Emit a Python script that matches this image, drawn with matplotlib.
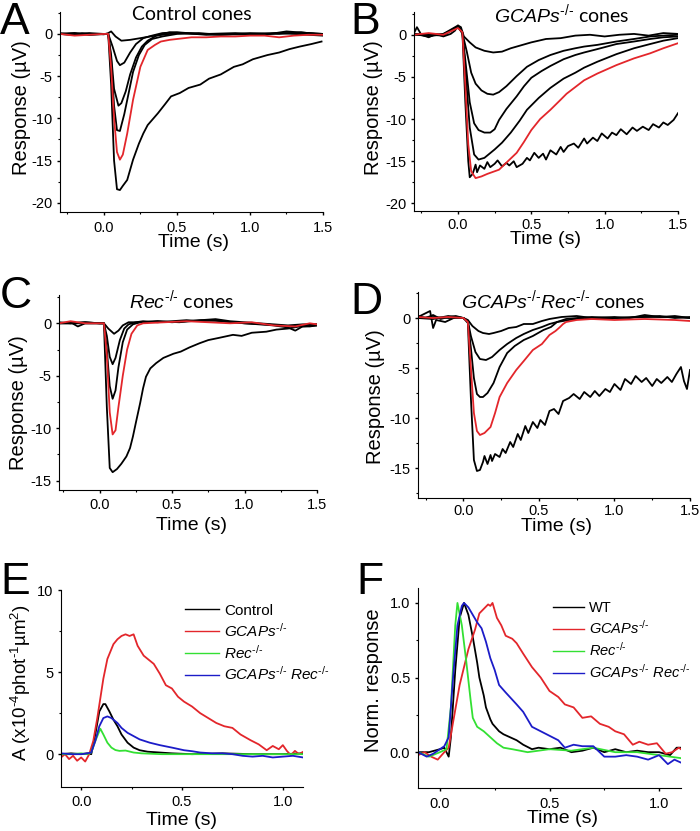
import matplotlib
matplotlib.use('Agg')
import matplotlib.pyplot as plt
from matplotlib.ticker import MultipleLocator, FormatStrFormatter

plt.rcParams['font.family'] = ['Liberation Sans', 'DejaVu Sans']
plt.rcParams['axes.unicode_minus'] = False
plt.rcParams['mathtext.fontset'] = 'custom'
plt.rcParams['mathtext.rm'] = 'Liberation Sans'
plt.rcParams['mathtext.it'] = 'Liberation Sans:italic'
plt.rcParams['mathtext.default'] = 'regular'

RED = '#e3262b'
GREEN = '#33e033'
BLUE = '#1c1cc8'

# ---- Panel A: control cones (t in s, response in uV)
A_t1 = [-0.3, -0.22, -0.15, -0.08, 0.0, 0.03, 0.05, 0.08, 0.12, 0.18, 0.25, 0.35, 0.5, 0.7, 0.9, 1.1, 1.25, 1.4, 1.5]
A_v1 = [0.0, -0.1, 0.1, 0.0, -0.05, 0.1, 0.3, -0.3, -0.8, -0.7, -0.5, -0.2, 0.1, 0.0, 0.1, -0.1, 0.3, 0.1, 0.0]
A_t2 = [-0.3, -0.2, -0.1, 0.0, 0.03, 0.06, 0.09, 0.11, 0.14, 0.18, 0.22, 0.27, 0.33, 0.4, 0.5, 0.65, 0.8, 1.0, 1.2, 1.35, 1.5]
A_v2 = [0.1, -0.1, 0.1, 0.0, 0.0, -1.5, -3.2, -3.7, -3.4, -2.2, -1.2, -0.5, -0.2, 0.1, 0.2, 0.0, -0.1, 0.1, 0.0, 0.2, -0.1]
A_t3 = [-0.3, -0.2, -0.1, 0.0, 0.03, 0.05, 0.07, 0.1, 0.12, 0.15, 0.18, 0.22, 0.26, 0.3, 0.36, 0.45, 0.55, 0.7, 0.85, 1.0, 1.2, 1.4, 1.5]
A_v3 = [0.0, 0.1, -0.1, 0.0, 0.0, -2.5, -6.5, -8.5, -8.2, -6.8, -4.8, -2.8, -1.5, -0.8, -0.2, 0.2, 0.1, -0.1, 0.0, -0.1, 0.1, 0.1, 0.0]
A_t4 = [-0.3, -0.2, -0.1, 0.0, 0.03, 0.05, 0.07, 0.09, 0.11, 0.14, 0.17, 0.2, 0.24, 0.28, 0.33, 0.4, 0.5, 0.65, 0.8, 1.0, 1.2, 1.4, 1.5]
A_v4 = [0.0, -0.1, 0.0, 0.0, 0.0, -3.0, -8.5, -11.4, -11.5, -9.5, -7.0, -4.5, -2.5, -1.3, -0.6, -0.3, 0.0, 0.1, -0.1, 0.0, 0.1, -0.1, -0.2]
A_tr = [-0.3, -0.2, -0.1, 0.0, 0.03, 0.05, 0.07, 0.09, 0.11, 0.13, 0.16, 0.2, 0.25, 0.3, 0.35, 0.39, 0.45, 0.5, 0.6, 0.7, 0.8, 0.9, 1.0, 1.1, 1.2, 1.3, 1.4, 1.5]
A_vr = [0.0, -0.2, -0.1, 0.0, 0.0, -4.0, -10.0, -14.0, -14.9, -14.3, -11.8, -7.8, -3.9, -1.9, -1.3, -0.9, -0.7, -0.6, -0.4, -0.4, -0.3, -0.3, -0.2, -0.2, -0.4, -0.2, -0.1, -0.1]
A_t5 = [-0.3, -0.2, -0.1, 0.0, 0.03, 0.05, 0.07, 0.09, 0.11, 0.13, 0.16, 0.2, 0.24, 0.27, 0.3, 0.34, 0.37, 0.42, 0.46, 0.52, 0.58, 0.66, 0.72, 0.8, 0.89, 0.95, 1.02, 1.12, 1.2, 1.27, 1.34, 1.42, 1.49]
A_v5 = [0.0, 0.1, -0.1, 0.0, 0.0, -6.0, -15.0, -18.4, -18.5, -18.0, -17.3, -14.9, -13.0, -11.8, -10.8, -10.0, -9.4, -8.3, -7.4, -7.0, -6.4, -6.0, -5.3, -4.8, -3.9, -3.6, -3.0, -2.5, -2.2, -1.8, -1.5, -1.2, -0.9]

# ---- Panel B: GCAPs-/- cones
B_t1 = [-0.3, -0.28, -0.25, -0.2, -0.15, -0.1, -0.05, -0.02, 0.0, 0.02, 0.04, 0.08, 0.12, 0.18, 0.24, 0.3, 0.36, 0.42, 0.5, 0.6, 0.7, 0.8, 0.9, 1.0, 1.1, 1.2, 1.3, 1.4, 1.5]
B_v1 = [0.2, 0.9, 0.0, -0.3, 0.1, -0.2, 0.1, 0.5, 1.1, 0.9, -0.2, -0.9, -1.5, -1.9, -2.1, -2.0, -1.6, -1.3, -0.9, -0.5, -0.4, -0.1, 0.0, -0.2, 0.0, 0.1, -0.1, 0.2, 0.1]
B_t2 = [-0.3, -0.2, -0.1, 0.0, 0.03, 0.06, 0.09, 0.12, 0.16, 0.2, 0.24, 0.28, 0.33, 0.4, 0.47, 0.55, 0.63, 0.72, 0.8, 0.86, 0.95, 1.08, 1.2, 1.31, 1.4, 1.5]
B_v2 = [0.0, -0.1, 0.1, 0.9, 0.2, -2.0, -4.5, -5.8, -6.6, -7.0, -7.1, -6.8, -6.1, -4.9, -3.8, -3.0, -2.4, -1.9, -1.6, -1.4, -1.2, -0.8, -0.5, -0.2, -0.1, 0.0]
B_t3 = [-0.3, -0.2, -0.1, 0.0, 0.03, 0.05, 0.08, 0.11, 0.14, 0.18, 0.22, 0.25, 0.28, 0.33, 0.4, 0.45, 0.5, 0.57, 0.63, 0.72, 0.8, 0.86, 0.95, 1.08, 1.2, 1.31, 1.4, 1.5]
B_v3 = [0.1, 0.0, -0.1, 1.0, 0.2, -3.0, -8.0, -10.5, -11.3, -11.6, -11.6, -11.2, -10.1, -8.8, -7.3, -6.1, -5.1, -4.3, -3.7, -2.9, -2.4, -2.1, -1.7, -1.1, -0.8, -0.5, -0.3, -0.2]
B_t4 = [-0.3, -0.2, -0.1, 0.0, 0.03, 0.05, 0.08, 0.11, 0.14, 0.18, 0.25, 0.3, 0.36, 0.42, 0.47, 0.55, 0.63, 0.72, 0.8, 0.86, 0.95, 1.08, 1.2, 1.31, 1.4, 1.5]
B_v4 = [0.0, 0.1, 0.0, 1.0, 0.2, -4.0, -11.0, -14.2, -14.8, -14.6, -13.6, -12.8, -11.6, -10.2, -8.9, -7.5, -6.3, -5.2, -4.5, -3.9, -3.2, -2.3, -1.6, -1.1, -0.7, -0.4]
B_tr = [-0.3, -0.2, -0.1, 0.0, 0.03, 0.05, 0.07, 0.09, 0.12, 0.16, 0.2, 0.28, 0.34, 0.4, 0.45, 0.5, 0.56, 0.63, 0.7, 0.74, 0.8, 0.86, 0.95, 1.08, 1.2, 1.31, 1.4, 1.5]
B_vr = [0.0, 0.2, 0.0, 0.8, 0.3, -6.0, -13.0, -16.2, -17.0, -16.8, -16.5, -16.0, -15.0, -14.0, -12.7, -11.3, -10.0, -8.9, -7.7, -7.0, -6.2, -5.4, -4.6, -3.6, -2.8, -2.2, -1.6, -1.0]
B_t5 = [-0.3, -0.2, -0.1, 0.0, 0.03, 0.05, 0.07, 0.08, 0.1, 0.12, 0.13, 0.15, 0.18, 0.2, 0.22, 0.25, 0.27, 0.3, 0.33, 0.35, 0.38, 0.4, 0.44, 0.47, 0.49, 0.52, 0.55, 0.58, 0.6, 0.63, 0.67, 0.7, 0.72, 0.75, 0.79, 0.82, 0.86, 0.88, 0.92, 0.95, 0.98, 1.02, 1.05, 1.08, 1.11, 1.15, 1.19, 1.22, 1.26, 1.3, 1.33, 1.37, 1.4, 1.43, 1.47, 1.5]
B_v5 = [0.1, -0.2, 0.1, 1.1, 0.3, -8.0, -15.0, -16.9, -16.5, -15.4, -16.3, -15.5, -15.9, -15.1, -15.7, -15.3, -14.9, -15.6, -15.2, -15.5, -15.0, -15.7, -15.3, -14.6, -14.9, -14.0, -14.6, -14.1, -14.8, -13.7, -14.2, -13.3, -13.9, -13.2, -12.9, -13.4, -12.3, -12.9, -12.2, -12.6, -11.7, -12.3, -11.6, -11.9, -11.2, -11.8, -11.0, -11.4, -10.9, -11.3, -10.6, -11.0, -10.4, -10.7, -10.1, -9.3]

# ---- Panel C: Rec-/- cones
C_t1 = [-0.28, -0.2, -0.15, -0.1, 0.0, 0.03, 0.06, 0.1, 0.13, 0.16, 0.2, 0.3, 0.4, 0.5, 0.6, 0.7, 0.8, 0.9, 1.0, 1.1, 1.2, 1.3, 1.4, 1.5]
C_v1 = [0.0, 0.1, -0.3, 0.0, 0.0, 0.0, -0.5, -1.0, -0.7, -0.2, 0.1, 0.1, 0.2, 0.1, 0.2, 0.3, 0.4, 0.2, 0.1, 0.0, -0.1, -0.2, -0.1, -0.1]
C_t2 = [-0.28, -0.2, -0.1, 0.0, 0.03, 0.05, 0.07, 0.09, 0.11, 0.14, 0.17, 0.2, 0.25, 0.3, 0.4, 0.5, 0.6, 0.7, 0.8, 0.9, 1.0, 1.1, 1.2, 1.3, 1.35, 1.4, 1.5]
C_v2 = [0.0, 0.0, 0.1, 0.0, 0.0, -1.2, -3.2, -3.9, -3.3, -1.6, -0.5, -0.1, 0.1, 0.2, 0.1, 0.2, 0.3, 0.2, 0.3, 0.1, 0.0, -0.1, -0.2, -0.4, -0.7, -0.3, -0.2]
C_t3 = [-0.28, -0.2, -0.1, 0.0, 0.03, 0.05, 0.07, 0.09, 0.11, 0.13, 0.16, 0.19, 0.23, 0.28, 0.4, 0.55, 0.7, 0.85, 1.0, 1.15, 1.3, 1.4, 1.5]
C_v3 = [0.1, 0.0, 0.0, 0.0, 0.0, -2.5, -6.0, -7.2, -6.4, -4.2, -1.8, -0.6, -0.1, 0.1, 0.2, 0.1, 0.3, 0.2, 0.0, -0.1, -0.3, -0.2, -0.1]
C_tr = [-0.28, -0.2, -0.1, 0.0, 0.03, 0.05, 0.07, 0.09, 0.11, 0.13, 0.16, 0.19, 0.22, 0.26, 0.3, 0.45, 0.6, 0.75, 0.9, 1.05, 1.2, 1.35, 1.45, 1.5]
C_vr = [0.0, 0.2, 0.0, 0.0, 0.0, -3.0, -8.5, -10.6, -10.2, -8.0, -5.0, -2.5, -1.0, -0.2, 0.0, 0.1, 0.2, 0.1, 0.0, 0.1, -0.2, -0.3, 0.0, -0.1]
C_t4 = [-0.28, -0.2, -0.1, 0.0, 0.03, 0.05, 0.07, 0.09, 0.12, 0.15, 0.185, 0.21, 0.23, 0.25, 0.28, 0.3, 0.32, 0.35, 0.39, 0.44, 0.51, 0.56, 0.62, 0.69, 0.75, 0.82, 0.92, 0.98, 1.05, 1.15, 1.22, 1.3, 1.38, 1.45, 1.5]
C_v4 = [0.0, 0.0, 0.1, 0.0, 0.0, -8.0, -13.8, -14.2, -13.9, -13.4, -12.7, -11.9, -10.8, -9.5, -7.6, -6.2, -5.1, -4.3, -3.8, -3.3, -2.9, -2.7, -2.3, -1.9, -1.6, -1.4, -1.1, -1.2, -0.9, -0.8, -0.6, -0.5, -0.3, -0.3, -0.2]

# ---- Panel D: GCAPs-/-Rec-/- cones
D_t1 = [-0.3, -0.25, -0.2, -0.15, -0.1, -0.05, 0.0, 0.03, 0.06, 0.1, 0.13, 0.17, 0.2, 0.25, 0.3, 0.35, 0.4, 0.46, 0.52, 0.57, 0.65, 0.75, 0.85, 1.0, 1.1, 1.2, 1.3, 1.4, 1.5]
D_v1 = [0.2, 0.0, 0.3, -0.1, 0.1, 0.2, 0.0, -0.2, -0.8, -1.3, -1.5, -1.6, -1.5, -1.3, -1.0, -0.9, -0.6, -0.6, -0.3, -0.1, 0.1, 0.2, 0.0, 0.1, 0.0, 0.3, 0.1, 0.2, 0.0]
D_t2 = [-0.3, -0.22, -0.2, -0.18, -0.12, -0.05, 0.0, 0.03, 0.05, 0.08, 0.11, 0.15, 0.19, 0.24, 0.29, 0.35, 0.4, 0.46, 0.52, 0.57, 0.62, 0.68, 0.75, 0.85, 1.0, 1.15, 1.3, 1.4, 1.5]
D_v2 = [0.1, 0.7, -1.0, -0.2, -0.4, 0.1, 0.0, -0.3, -1.8, -3.4, -4.1, -4.2, -3.9, -3.2, -2.6, -2.0, -1.6, -1.2, -0.9, -0.6, -0.4, -0.1, 0.0, 0.1, 0.0, 0.1, 0.2, 0.0, 0.1]
D_t3 = [-0.3, -0.2, -0.1, 0.0, 0.03, 0.05, 0.07, 0.09, 0.11, 0.13, 0.16, 0.2, 0.24, 0.29, 0.34, 0.4, 0.46, 0.53, 0.58, 0.62, 0.7, 0.8, 0.9, 1.0, 1.2, 1.4, 1.5]
D_v3 = [0.0, 0.1, 0.0, 0.0, -0.3, -3.0, -6.0, -7.6, -7.9, -7.9, -7.5, -6.5, -4.9, -3.5, -2.8, -2.2, -1.8, -1.2, -0.9, -0.4, -0.2, 0.0, -0.1, 0.0, 0.1, 0.1, 0.0]
D_tr = [-0.3, -0.2, -0.1, 0.0, 0.03, 0.05, 0.07, 0.09, 0.11, 0.14, 0.18, 0.21, 0.24, 0.29, 0.35, 0.4, 0.46, 0.52, 0.57, 0.61, 0.64, 0.66, 0.68, 0.75, 0.85, 1.0, 1.2, 1.4, 1.5]
D_vr = [0.1, 0.0, 0.1, 0.0, -0.4, -5.0, -9.5, -11.3, -11.7, -11.5, -10.9, -9.5, -7.9, -6.5, -5.2, -4.3, -3.2, -2.6, -1.7, -1.3, -0.9, -0.6, -0.4, -0.2, -0.1, -0.2, -0.1, -0.2, -0.3]
D_t4 = [-0.3, -0.2, -0.1, 0.0, 0.03, 0.05, 0.07, 0.09, 0.11, 0.13, 0.14, 0.16, 0.18, 0.19, 0.21, 0.24, 0.26, 0.28, 0.31, 0.33, 0.36, 0.38, 0.41, 0.43, 0.46, 0.49, 0.51, 0.54, 0.57, 0.6, 0.63, 0.66, 0.7, 0.73, 0.77, 0.8, 0.84, 0.87, 0.9, 0.94, 0.97, 1.0, 1.04, 1.07, 1.11, 1.14, 1.18, 1.21, 1.25, 1.28, 1.31, 1.35, 1.38, 1.41, 1.44, 1.46, 1.48, 1.5]
D_v4 = [0.0, -0.1, 0.2, 0.0, -0.5, -8.0, -14.2, -15.3, -15.2, -14.4, -13.8, -14.6, -13.7, -14.3, -13.6, -13.9, -13.1, -13.5, -12.4, -12.9, -11.6, -12.2, -10.8, -11.5, -10.4, -11.0, -10.2, -10.7, -9.3, -9.1, -9.6, -8.3, -8.0, -7.6, -8.1, -7.4, -7.9, -7.3, -7.8, -7.1, -7.4, -6.6, -7.2, -6.1, -6.6, -5.8, -6.4, -6.0, -6.8, -6.1, -6.5, -5.9, -6.4, -5.6, -4.9, -6.3, -7.1, -5.2]

# ---- Panel E: amplification (x1e-4 phot^-1 um^2)
E_t_ctl = [-0.1, -0.05, 0.0, 0.03, 0.05, 0.07, 0.09, 0.11, 0.12, 0.14, 0.16, 0.18, 0.2, 0.23, 0.26, 0.29, 0.33, 0.39, 0.45, 0.55, 0.7, 0.85, 1.0, 1.1]
E_v_ctl = [0.0, 0.05, 0.0, 0.05, 0.0, 1.2, 2.6, 3.05, 3.05, 2.6, 2.1, 1.7, 1.2, 0.7, 0.4, 0.24, 0.15, 0.1, 0.05, 0.0, 0.05, 0.0, 0.0, 0.05]
E_t_gcap = [-0.1, -0.08, -0.06, -0.04, -0.02, 0.0, 0.02, 0.04, 0.06, 0.08, 0.095, 0.11, 0.13, 0.16, 0.18, 0.2, 0.22, 0.24, 0.26, 0.28, 0.31, 0.33, 0.36, 0.39, 0.42, 0.45, 0.48, 0.51, 0.55, 0.59, 0.63, 0.67, 0.71, 0.75, 0.79, 0.84, 0.88, 0.92, 0.95, 0.98, 1.0, 1.02, 1.04, 1.06, 1.08, 1.1]
E_v_gcap = [-0.2, 0.0, -0.3, -0.1, -0.4, -0.2, -0.45, 0.0, 0.8, 2.2, 3.4, 4.6, 5.8, 6.7, 7.0, 7.2, 7.3, 7.2, 7.3, 6.6, 6.0, 5.8, 5.5, 4.9, 4.2, 4.0, 3.5, 3.2, 2.9, 2.5, 2.2, 1.9, 1.7, 1.6, 1.2, 0.85, 0.6, 0.24, 0.5, 0.3, 0.55, 0.2, -0.06, 0.2, 0.0, 0.14]
E_t_rec = [-0.1, -0.05, 0.0, 0.03, 0.05, 0.07, 0.095, 0.11, 0.13, 0.15, 0.17, 0.19, 0.22, 0.26, 0.3, 0.4, 0.5, 0.6, 0.8, 1.0, 1.1]
E_v_rec = [0.0, 0.0, 0.05, 0.0, 0.1, 0.8, 1.55, 1.2, 0.7, 0.4, 0.25, 0.2, 0.22, 0.1, 0.05, 0.0, 0.0, 0.0, 0.0, 0.0, 0.0]
E_t_dko = [-0.1, -0.05, 0.0, 0.03, 0.05, 0.07, 0.09, 0.11, 0.13, 0.15, 0.18, 0.2, 0.23, 0.26, 0.29, 0.34, 0.39, 0.45, 0.51, 0.55, 0.59, 0.65, 0.7, 0.75, 0.8, 0.85, 0.9, 0.95, 1.0, 1.05, 1.1]
E_v_dko = [0.05, 0.0, 0.0, 0.05, 0.1, 0.8, 1.7, 2.2, 2.3, 2.2, 1.9, 1.6, 1.3, 1.1, 0.9, 0.7, 0.55, 0.4, 0.24, 0.18, 0.1, 0.05, 0.05, 0.0, -0.1, -0.15, -0.1, -0.2, -0.15, -0.1, -0.2]

# ---- Panel F: normalized responses
F_t_wt = [-0.1, -0.05, 0.0, 0.02, 0.04, 0.05, 0.07, 0.09, 0.11, 0.13, 0.15, 0.17, 0.18, 0.2, 0.21, 0.23, 0.24, 0.27, 0.29, 0.32, 0.35, 0.38, 0.42, 0.45, 0.5, 0.55, 0.6, 0.65, 0.7, 0.75, 0.8, 0.85, 0.9, 0.95, 1.0, 1.05, 1.08, 1.1]
F_v_wt = [0.0, 0.0, 0.02, 0.03, -0.03, 0.1, 0.55, 0.9, 1.0, 0.92, 0.77, 0.6, 0.5, 0.38, 0.3, 0.22, 0.19, 0.14, 0.12, 0.1, 0.08, 0.05, 0.02, 0.03, 0.02, 0.03, 0.0, 0.01, 0.03, 0.0, 0.02, 0.0, 0.01, 0.0, 0.0, -0.02, 0.03, 0.03]
F_t_gcap = [-0.1, -0.07, -0.04, -0.01, 0.02, 0.04, 0.06, 0.09, 0.13, 0.16, 0.18, 0.2, 0.22, 0.23, 0.24, 0.26, 0.28, 0.3, 0.33, 0.35, 0.38, 0.42, 0.46, 0.5, 0.54, 0.57, 0.61, 0.65, 0.69, 0.73, 0.77, 0.8, 0.84, 0.88, 0.91, 0.95, 0.99, 1.03, 1.06, 1.09, 1.1]
F_v_gcap = [-0.02, 0.0, -0.03, -0.05, 0.0, 0.03, 0.2, 0.45, 0.69, 0.82, 0.93, 0.96, 0.99, 0.98, 1.0, 0.9, 0.85, 0.78, 0.76, 0.73, 0.66, 0.57, 0.5, 0.41, 0.37, 0.32, 0.3, 0.23, 0.24, 0.19, 0.17, 0.14, 0.12, 0.05, 0.07, 0.05, 0.06, -0.01, 0.0, 0.03, 0.02]
F_t_rec = [-0.1, -0.05, 0.0, 0.03, 0.05, 0.07, 0.08, 0.1, 0.12, 0.14, 0.15, 0.17, 0.18, 0.2, 0.23, 0.26, 0.29, 0.33, 0.4, 0.5, 0.6, 0.7, 0.8, 0.9, 1.0, 1.05, 1.1]
F_v_rec = [0.0, -0.03, 0.0, 0.02, 0.3, 0.85, 1.0, 0.85, 0.61, 0.35, 0.23, 0.17, 0.16, 0.14, 0.1, 0.06, 0.03, 0.02, 0.0, 0.02, 0.01, 0.03, 0.0, 0.0, -0.02, -0.03, -0.04]
F_t_dko = [-0.1, -0.06, -0.03, 0.0, 0.02, 0.04, 0.06, 0.08, 0.1, 0.11, 0.13, 0.15, 0.17, 0.19, 0.21, 0.23, 0.25, 0.27, 0.3, 0.35, 0.38, 0.42, 0.46, 0.5, 0.54, 0.57, 0.61, 0.65, 0.7, 0.75, 0.8, 0.85, 0.9, 0.95, 1.0, 1.04, 1.07, 1.1]
F_v_dko = [0.0, -0.03, -0.01, 0.02, 0.04, 0.1, 0.5, 0.85, 0.98, 1.0, 0.97, 0.92, 0.87, 0.83, 0.74, 0.63, 0.55, 0.45, 0.4, 0.32, 0.27, 0.17, 0.14, 0.11, 0.08, 0.03, 0.05, 0.04, 0.04, -0.03, -0.03, -0.02, -0.03, -0.05, -0.02, -0.08, -0.05, -0.07]

KO = r'\text{-/-}'
GCAP_LBL = r'$\mathit{GCAPs}^{' + KO + '}$'
REC_LBL = r'$\mathit{Rec}^{' + KO + '}$'
DKO_LBL = r'$\mathit{GCAPs}^{' + KO + r'}\ \mathit{Rec}^{' + KO + '}$'

W, H = 700, 831
fig = plt.figure(figsize=(7, 8.31), dpi=100)


def make_ax(left, right, top, bottom):
    return fig.add_axes([left / W, 1 - bottom / H, (right - left) / W, (bottom - top) / H])


def style(ax, xlim, ylim, ymaj, yfmt, xpad, xmaj=0.5):
    ax.set_xlim(*xlim)
    ax.set_ylim(*ylim)
    for s in ['top', 'right']:
        ax.spines[s].set_visible(False)
    ax.xaxis.set_major_locator(MultipleLocator(xmaj))
    ax.xaxis.set_minor_locator(MultipleLocator(xmaj / 2))
    ax.yaxis.set_major_locator(MultipleLocator(ymaj))
    ax.yaxis.set_minor_locator(MultipleLocator(ymaj / 2))
    ax.xaxis.set_major_formatter(FormatStrFormatter('%.1f'))
    ax.yaxis.set_major_formatter(FormatStrFormatter(yfmt))
    ax.tick_params(which='major', direction='out', length=2.5, width=1, labelsize=10.5)
    ax.tick_params(which='minor', direction='out', length=1.5, width=0.8)
    ax.tick_params(axis='x', pad=xpad)
    ax.tick_params(axis='y', pad=3)
    ax.set_xlabel('Time (s)', fontsize=14)


lw = 1.3

# A
axA = make_ax(60, 323, 12, 212)
for t, v in [(A_t1, A_v1), (A_t2, A_v2), (A_t3, A_v3), (A_t4, A_v4), (A_t5, A_v5)]:
    axA.plot(t, v, color='black', lw=lw)
axA.plot(A_tr, A_vr, color=RED, lw=lw)
style(axA, (-0.3, 1.5), (-21.1, 2.6), 5, '%d', 4.0)
axA.set_ylabel('Response (µV)', fontsize=14.5)
axA.yaxis.set_label_coords(-0.11, 0.52)
axA.xaxis.set_label_coords(0.506, -0.11)

# B
axB = make_ax(414, 678, 12, 211)
for t, v in [(B_t1, B_v1), (B_t2, B_v2), (B_t3, B_v3), (B_t4, B_v4), (B_t5, B_v5)]:
    axB.plot(t, v, color='black', lw=lw)
axB.plot(B_tr, B_vr, color=RED, lw=lw)
style(axB, (-0.3, 1.5), (-20.9, 2.7), 5, '%d', 2.5)
axB.set_ylabel('Response (µV)', fontsize=14.5)
axB.yaxis.set_label_coords(-0.117, 0.52)
axB.xaxis.set_label_coords(0.5, -0.1)

# C
axC = make_ax(59, 317, 295, 490)
for t, v in [(C_t1, C_v1), (C_t2, C_v2), (C_t3, C_v3), (C_t4, C_v4)]:
    axC.plot(t, v, color='black', lw=lw)
axC.plot(C_tr, C_vr, color=RED, lw=lw)
style(axC, (-0.28, 1.5), (-15.9, 2.7), 5, '%d', 3.2)
axC.set_ylabel('Response (µV)', fontsize=14.5)
axC.yaxis.set_label_coords(-0.12, 0.45)
axC.xaxis.set_label_coords(0.515, -0.14)

# D
axD = make_ax(418, 690, 292, 498)
for t, v in [(D_t1, D_v1), (D_t2, D_v2), (D_t3, D_v3), (D_t4, D_v4)]:
    axD.plot(t, v, color='black', lw=lw)
axD.plot(D_tr, D_vr, color=RED, lw=lw)
style(axD, (-0.3, 1.5), (-18.0, 2.6), 5, '%d', 1.8)
axD.set_ylabel('Response (µV)', fontsize=14.5)
axD.yaxis.set_label_coords(-0.12, 0.49)
axD.xaxis.set_label_coords(0.51, -0.095)

# E
axE = make_ax(61, 303, 590, 787)
axE.plot(E_t_ctl, E_v_ctl, color='black', lw=lw, label='Control')
axE.plot(E_t_gcap, E_v_gcap, color=RED, lw=lw, label=GCAP_LBL)
axE.plot(E_t_rec, E_v_rec, color=GREEN, lw=lw, label=REC_LBL)
axE.plot(E_t_dko, E_v_dko, color=BLUE, lw=lw, label=DKO_LBL)
style(axE, (-0.1, 1.1), (-2.0, 10.0), 5, '%d', 3.2)
axE.set_ylabel(r'A (x10$^{\text{-4}}$phot$^{\text{-1}}$µm$^{2}$)', fontsize=13.5)
axE.yaxis.set_label_coords(-0.116, 0.53)
axE.xaxis.set_label_coords(0.5, -0.125)
legE = axE.legend(loc='upper left', bbox_to_anchor=(0.512, 0.93), frameon=False, fontsize=11,
                  handlelength=2.2, handletextpad=0.35, labelspacing=0.25, borderpad=0, borderaxespad=0)
for h in legE.get_lines():
    h.set_linewidth(1.0)

# F
axF = make_ax(418, 681, 588, 788)
axF.plot(F_t_wt, F_v_wt, color='black', lw=lw, label='WT')
axF.plot(F_t_gcap, F_v_gcap, color=RED, lw=lw, label=GCAP_LBL)
axF.plot(F_t_rec, F_v_rec, color=GREEN, lw=lw, label=REC_LBL)
axF.plot(F_t_dko, F_v_dko, color=BLUE, lw=lw, label=DKO_LBL)
style(axF, (-0.1, 1.1), (-0.24, 1.1), 0.5, '%.1f', 4.0)
axF.set_ylabel('Norm. response', fontsize=14.5)
axF.yaxis.set_label_coords(-0.133, 0.54)
axF.xaxis.set_label_coords(0.55, -0.11)
legF = axF.legend(loc='upper left', bbox_to_anchor=(0.513, 0.935), frameon=False, fontsize=10.5,
                  handlelength=2.1, handletextpad=0.35, labelspacing=0.28, borderpad=0, borderaxespad=0)
for h in legF.get_lines():
    h.set_linewidth(1.0)

# panel titles
tfont = dict(family=['Lato', 'Liberation Sans'], fontsize=14, ha='center', va='center')
fig.text(192 / W, 1 - 14 / H, 'Control cones', **tfont)
fig.text(562 / W, 1 - 14 / H, GCAP_LBL + ' cones', **tfont)
fig.text(182 / W, 1 - 300 / H, REC_LBL + ' cones', **tfont)
fig.text(553 / W, 1 - 300 / H, r'$\mathit{GCAPs}^{' + KO + r'}\mathit{Rec}^{' + KO + '}$ cones', **tfont)

# panel letters
for letter, x, y in [('A', 0, 2), ('B', 350, 2), ('C', 0, 276), ('D', 350, 282), ('E', 0, 562), ('F', 356, 562)]:
    fig.text(x / W, 1 - y / H, letter, fontsize=32, ha='left', va='top')

fig.savefig('out.png', dpi=100)
